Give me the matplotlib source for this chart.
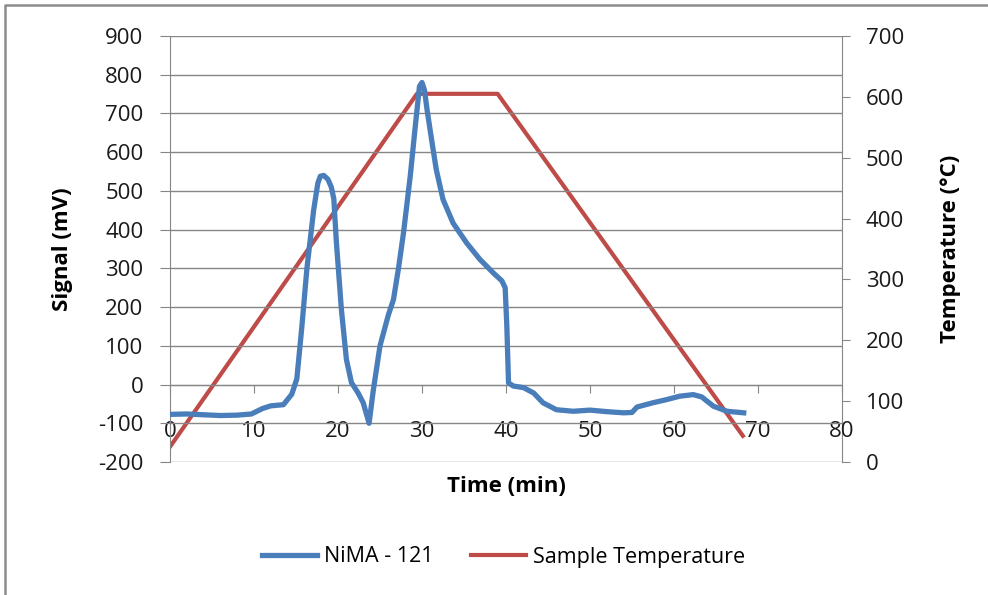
import matplotlib
matplotlib.use('Agg')
import matplotlib.pyplot as plt
from matplotlib.lines import Line2D

plt.rcParams['font.family'] = ['Open Sans', 'DejaVu Sans']
plt.rcParams['axes.unicode_minus'] = False

# signal trace (mV)
time_sig = [0, 2, 4, 6, 8, 9.7, 11, 12, 13.5, 14.5, 15.1, 15.7,
            16.3, 17.1, 17.6, 17.9, 18.3, 18.8, 19.2, 19.5, 19.8, 20.4, 21.0, 21.6,
            22.4, 23.0, 23.7, 24.2, 25.0, 26.0, 26.6, 27.2, 27.8, 28.6, 29.2, 29.7,
            30.0, 30.3, 30.6, 31.2, 31.7, 32.5, 33.7, 35.3, 36.9, 38.5, 39.5, 39.9,
            40.1, 40.3, 40.9, 42.1, 43.3, 44.4, 46.0, 48.0, 50.0, 52.0, 54.0, 55.0,
            55.6, 57.5, 59.1, 60.7, 62.3, 63.3, 64.7, 66.3, 68.3]
signal = [-77, -76, -78, -80, -79, -76, -62, -55, -52, -25, 15, 150,
          300, 450, 520, 538, 540, 530, 510, 480, 370, 195, 65, 5,
          -22, -47, -100, -15, 100, 180, 219, 300, 392, 538, 667, 770,
          780, 760, 710, 624, 555, 478, 417, 366, 323, 288, 268, 250,
          150, 4, -4, -8, -22, -47, -65, -69, -66, -70, -73, -72,
          -58, -47, -39, -30, -26, -32, -56, -69, -73]

# sample temperature programme (°C)
time_temp = [0, 29.4, 39.0, 68.2]
temp = [25, 605, 605, 43]

sig_ticks = list(range(-200, 901, 100))
temp_ticks = list(range(0, 701, 100))
time_ticks = list(range(0, 81, 10))

BLUE = '#4A7EBB'
RED = '#BE4B48'
GRID = '#868686'

W, H = 988, 595
fig = plt.figure(figsize=(W / 100, H / 100), dpi=100)
ax = fig.add_axes([170 / W, 1 - 462 / H, (842 - 170) / W, (462 - 36) / H])
ax2 = ax.twinx()

l1, = ax.plot(time_sig, signal, color=BLUE, lw=3.8, solid_joinstyle='round', zorder=3)
l2, = ax2.plot(time_temp, temp, color=RED, lw=3.0, solid_joinstyle='round', zorder=3)

ax.set_xlim(0, 80)
ax.set_ylim(-200, 900)
ax.set_yticks(sig_ticks)
ax.set_xticks(time_ticks)
ax.grid(axis='y', color=GRID, lw=1.0)
ax.set_axisbelow(True)

for s in ['top', 'right']:
    ax.spines[s].set_visible(False)
ax.spines['left'].set_color(GRID)
ax.spines['bottom'].set_position(('data', 0))
ax.spines['bottom'].set_color(GRID)

ax.tick_params(axis='y', direction='out', length=7, color=GRID, pad=12,
               labelsize=16, labelcolor='#1a1a1a')
ax.tick_params(axis='x', direction='out', length=6, color=GRID, pad=20,
               labelsize=16, labelcolor='#1a1a1a')

ax2.set_ylim(0, 700)
ax2.set_yticks(temp_ticks)
for s in ['top', 'left', 'bottom']:
    ax2.spines[s].set_visible(False)
ax2.spines['right'].set_color(GRID)
ax2.tick_params(axis='y', direction='out', length=6, color=GRID, pad=11,
                labelsize=16, labelcolor='#1a1a1a')

ax.set_ylabel('Signal (mV)', fontsize=16, fontweight='bold', va='center')
ax.yaxis.set_label_coords((63 - 170) / 672, 0.5)
ax.set_xlabel('Time (min)', fontsize=16, fontweight='bold', va='center')
ax.xaxis.set_label_coords(0.5, (462 - 486) / 426)
ax2.set_ylabel('Temperature (°C)', fontsize=16, fontweight='bold', va='center')
ax2.yaxis.set_label_coords((951 - 170) / 672, 0.5)

ax.set_zorder(ax2.get_zorder() + 1)
ax.patch.set_visible(False)

fig.legend([l1, l2], ['NiMA - 121', 'Sample Temperature'], loc='center',
           bbox_to_anchor=(503.5 / W, 1 - 557 / H), ncol=2, frameon=False,
           fontsize=15.5, handlelength=2.55, handletextpad=0.32, columnspacing=1.75)

# outer chart border (only left and top visible in the crop)
fig.add_artist(Line2D([5 / W, 5 / W, 1], [0, 1 - 5 / H, 1 - 5 / H],
                      transform=fig.transFigure, color='#8c8c8c', lw=1.8))

fig.savefig('out.png', dpi=100)
